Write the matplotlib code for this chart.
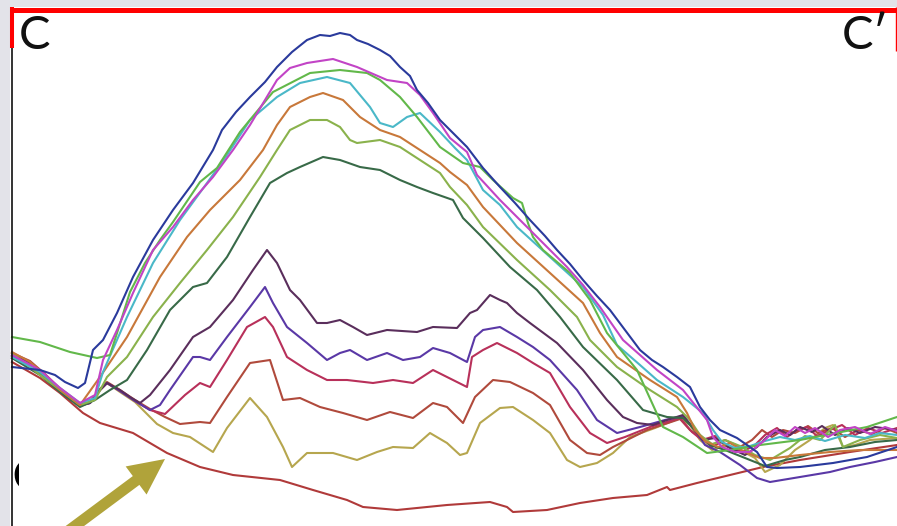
import matplotlib
matplotlib.use("Agg")
import matplotlib.pyplot as plt
from matplotlib.patches import Rectangle, FancyArrow

# ---- profile data (horizontal position along C-C', vertical position, image units, y down) ----
blue_x = [12, 40, 55, 65, 78, 85, 93, 103, 117, 133, 153, 173, 193, 213, 222, 236, 250, 265, 277, 292, 307, 320, 330, 340, 350, 357, 368, 380, 390, 400, 410, 417, 428, 440, 453, 467, 483, 500, 515, 530, 545, 557, 570, 583, 597, 610, 625, 640, 652, 663, 677, 690, 700, 710, 720, 737, 757, 767, 777, 800, 833, 867, 897]
blue_y = [367, 370, 375, 382, 388, 383, 350, 340, 313, 277, 240, 210, 183, 150, 130, 112, 97, 82, 67, 52, 40, 35, 36, 33, 35, 40, 44, 50, 56, 67, 76, 90, 103, 120, 133, 147, 168, 187, 203, 220, 236, 250, 264, 280, 296, 310, 330, 350, 360, 367, 377, 387, 407, 420, 430, 438, 452, 467, 468, 467, 463, 457, 447]

magenta_x = [12, 40, 60, 80, 95, 103, 117, 133, 153, 173, 193, 213, 233, 250, 265, 277, 290, 307, 333, 357, 387, 407, 420, 433, 450, 467, 477, 500, 517, 533, 550, 567, 583, 600, 623, 640, 657, 670, 683, 695, 707, 713, 722, 735, 750, 765, 775, 785, 795, 805, 815, 828, 840, 855, 870, 885, 897]
magenta_y = [355, 370, 388, 403, 395, 360, 330, 293, 250, 227, 200, 177, 150, 125, 100, 80, 68, 63, 59, 67, 80, 83, 95, 113, 138, 152, 175, 200, 217, 233, 250, 267, 285, 307, 340, 355, 370, 380, 390, 405, 420, 437, 447, 452, 452, 440, 430, 436, 427, 433, 428, 437, 430, 427, 434, 427, 431]

lgreen_x = [12, 40, 70, 97, 110, 118, 130, 145, 160, 173, 200, 217, 240, 273, 310, 340, 367, 380, 400, 417, 440, 463, 480, 493, 513, 522, 528, 533, 543, 570, 590, 607, 637, 663, 683, 707, 730, 760, 800, 867, 897]
lgreen_y = [337, 342, 352, 358, 355, 330, 292, 263, 240, 222, 182, 168, 132, 92, 73, 70, 73, 80, 97, 117, 147, 163, 167, 180, 198, 203, 223, 237, 250, 273, 300, 333, 370, 427, 437, 453, 450, 445, 440, 427, 417]

cyan_x = [12, 40, 60, 80, 95, 103, 127, 153, 180, 207, 227, 250, 277, 300, 327, 350, 370, 380, 393, 407, 420, 440, 455, 467, 483, 500, 517, 550, 583, 603, 617, 640, 657, 683, 703, 713, 722, 735, 750, 765, 780, 795, 810, 825, 845, 865, 880, 897]
cyan_y = [357, 372, 388, 403, 398, 372, 317, 263, 220, 183, 155, 120, 97, 83, 77, 83, 107, 123, 127, 117, 113, 132, 148, 160, 190, 205, 227, 257, 287, 315, 345, 365, 380, 397, 413, 430, 442, 448, 446, 441, 437, 440, 436, 441, 435, 438, 433, 435]

orange_x = [12, 30, 45, 60, 80, 100, 127, 160, 187, 210, 240, 263, 277, 290, 310, 323, 343, 360, 380, 400, 420, 440, 450, 467, 483, 517, 550, 583, 600, 617, 650, 677, 687, 695, 705, 718, 730, 745, 760, 775, 800, 830, 860, 897]
orange_y = [352, 362, 375, 390, 405, 377, 337, 277, 237, 210, 180, 150, 125, 107, 97, 93, 100, 117, 130, 137, 150, 163, 172, 185, 207, 243, 273, 303, 333, 357, 380, 397, 413, 430, 441, 447, 443, 452, 458, 458, 455, 452, 450, 450]

ygreen_x = [12, 40, 60, 80, 95, 107, 127, 153, 180, 207, 233, 260, 277, 290, 310, 327, 340, 350, 357, 380, 400, 420, 440, 450, 467, 483, 517, 550, 577, 590, 617, 650, 677, 690, 700, 712, 725, 740, 755, 770, 790, 805, 820, 835, 843, 860, 880, 897]
ygreen_y = [353, 375, 390, 405, 400, 377, 357, 317, 283, 250, 217, 177, 150, 130, 120, 120, 127, 140, 143, 140, 147, 160, 173, 187, 205, 227, 260, 290, 317, 340, 367, 390, 407, 420, 435, 444, 440, 446, 455, 460, 448, 436, 440, 425, 447, 440, 435, 438]

dgreen_x = [12, 40, 60, 80, 95, 110, 127, 147, 170, 193, 207, 227, 250, 270, 287, 300, 323, 340, 360, 380, 400, 417, 433, 453, 463, 483, 510, 537, 560, 583, 617, 643, 667, 683, 697, 710, 725, 745, 765, 785, 800, 825, 850, 875, 897]
dgreen_y = [358, 375, 392, 407, 400, 390, 380, 350, 310, 287, 283, 257, 217, 183, 173, 167, 157, 160, 167, 170, 180, 187, 193, 200, 218, 238, 267, 290, 317, 347, 380, 410, 417, 418, 432, 445, 450, 458, 466, 460, 457, 450, 447, 442, 440]

dpurple_x = [12, 30, 45, 60, 80, 90, 100, 107, 120, 130, 140, 150, 170, 193, 210, 233, 253, 267, 277, 290, 300, 317, 327, 340, 353, 367, 387, 417, 433, 457, 470, 477, 490, 500, 507, 517, 530, 557, 583, 607, 623, 637, 653, 667, 683, 693, 703, 715, 730, 745, 757, 767, 780, 790, 800, 812, 822, 835, 848, 860, 875, 897]
dpurple_y = [355, 363, 375, 390, 405, 403, 390, 383, 390, 397, 403, 395, 370, 337, 327, 300, 270, 250, 263, 290, 300, 323, 323, 320, 327, 335, 330, 332, 327, 328, 313, 310, 295, 300, 303, 313, 323, 343, 370, 400, 417, 423, 425, 420, 415, 428, 440, 438, 448, 455, 447, 437, 430, 435, 427, 432, 426, 435, 428, 433, 427, 430]

purple_x = [12, 30, 45, 60, 80, 90, 100, 107, 120, 135, 150, 160, 170, 193, 200, 210, 227, 250, 265, 273, 287, 307, 327, 340, 350, 367, 387, 403, 420, 433, 450, 467, 475, 483, 500, 517, 533, 550, 577, 597, 617, 640, 665, 683, 695, 705, 720, 740, 757, 770, 800, 830, 850, 875, 897]
purple_y = [356, 364, 376, 391, 405, 403, 390, 383, 391, 401, 410, 405, 390, 357, 357, 360, 337, 307, 287, 303, 327, 343, 360, 353, 350, 360, 353, 360, 357, 348, 353, 362, 337, 330, 327, 337, 347, 360, 390, 420, 433, 427, 420, 416, 430, 445, 452, 465, 478, 482, 477, 472, 467, 462, 457]

crimson_x = [12, 30, 45, 60, 80, 90, 100, 107, 120, 135, 150, 165, 185, 200, 210, 227, 247, 265, 273, 287, 307, 327, 347, 373, 393, 413, 433, 453, 467, 472, 483, 497, 517, 533, 550, 570, 590, 607, 625, 650, 680, 692, 702, 715, 728, 742, 755, 765, 777, 787, 797, 807, 817, 830, 842, 855, 868, 882, 897]
crimson_y = [358, 366, 378, 392, 406, 403, 390, 383, 391, 401, 410, 414, 395, 383, 387, 360, 327, 317, 327, 357, 370, 380, 380, 383, 380, 383, 370, 380, 387, 357, 350, 343, 353, 363, 373, 407, 433, 443, 437, 427, 418, 432, 440, 436, 447, 452, 445, 435, 428, 437, 430, 427, 436, 430, 425, 435, 428, 433, 428]

rbrown_x = [12, 30, 45, 60, 80, 90, 100, 107, 120, 135, 150, 165, 180, 200, 210, 227, 250, 270, 283, 300, 320, 343, 367, 390, 413, 433, 447, 463, 475, 493, 510, 533, 550, 570, 587, 600, 613, 647, 680, 690, 700, 712, 725, 740, 752, 762, 772, 783, 795, 808, 818, 832, 845, 858, 872, 885, 897]
rbrown_y = [353, 361, 374, 389, 404, 402, 389, 382, 390, 400, 409, 417, 424, 422, 423, 397, 363, 360, 400, 398, 407, 413, 420, 412, 418, 403, 407, 423, 397, 380, 382, 393, 405, 440, 453, 455, 447, 430, 419, 430, 437, 447, 440, 447, 440, 430, 437, 430, 433, 426, 433, 428, 437, 430, 434, 428, 433]

olive_x = [12, 30, 45, 60, 80, 90, 100, 107, 120, 135, 157, 173, 190, 213, 227, 250, 267, 283, 292, 307, 333, 357, 377, 393, 413, 430, 447, 460, 467, 480, 500, 513, 533, 550, 567, 580, 597, 613, 630, 655, 680, 690, 700, 712, 725, 740, 755, 765, 780, 795, 810, 825, 833, 843, 855, 870, 897]
olive_y = [356, 365, 378, 390, 405, 403, 390, 383, 392, 402, 424, 433, 437, 452, 428, 398, 417, 447, 467, 453, 453, 460, 452, 447, 448, 433, 443, 455, 453, 423, 408, 407, 420, 433, 460, 467, 463, 453, 437, 428, 418, 425, 440, 450, 446, 450, 458, 472, 465, 450, 440, 428, 425, 447, 445, 440, 438]

dred_x = [12, 40, 60, 83, 100, 133, 167, 200, 233, 280, 313, 347, 363, 397, 447, 490, 507, 513, 547, 580, 613, 647, 667, 670, 697, 730, 763, 800, 850, 897]
dred_y = [362, 378, 393, 413, 423, 433, 453, 467, 475, 480, 490, 500, 507, 510, 505, 502, 507, 512, 510, 503, 498, 495, 487, 490, 483, 475, 467, 460, 452, 445]

# arrow (tail, tip) and labels
arrow_tail = (48, 546)
arrow_tip = (165, 459)
label_left = "C"
label_right = "C\u2032"

W, H = 897, 526
fig = plt.figure(figsize=(W / 100, H / 100), dpi=100, facecolor="#e3e3e9")
ax = fig.add_axes([0, 0, 1, 1])
ax.set_xlim(0, W)
ax.set_ylim(H, 0)
ax.axis("off")
ax.patch.set_alpha(0)

# panel background
ax.add_patch(Rectangle((10, 7), W - 10, H - 7, facecolor="white", edgecolor="none", zorder=0))

series = [
    (dred_x, dred_y, "#b03a3a"),
    (olive_x, olive_y, "#b6a64e"),
    (rbrown_x, rbrown_y, "#b04a3c"),
    (crimson_x, crimson_y, "#b8305a"),
    (purple_x, purple_y, "#5a38a6"),
    (dpurple_x, dpurple_y, "#5a2e5c"),
    (dgreen_x, dgreen_y, "#386a48"),
    (ygreen_x, ygreen_y, "#8ab24c"),
    (orange_x, orange_y, "#c8783a"),
    (cyan_x, cyan_y, "#4ab8c8"),
    (lgreen_x, lgreen_y, "#62b84a"),
    (magenta_x, magenta_y, "#c244c6"),
    (blue_x, blue_y, "#2a3a9c"),
]
for xs, ys, c in series:
    ax.plot(xs, ys, color=c, lw=1.5, solid_joinstyle="round", zorder=3)

# frame
ax.plot([10, W], [9.5, 9.5], color="#ff0000", lw=3.6, solid_capstyle="butt", zorder=5)
ax.plot([12, 12], [7, 48], color="#ff0000", lw=2.9, solid_capstyle="butt", zorder=5)
ax.plot([11.5, 11.5], [48, H], color="#111111", lw=1.2, solid_capstyle="butt", zorder=5)
ax.plot([896.3, 896.3], [7, 51], color="#ff0000", lw=1.0, solid_capstyle="butt", zorder=5)

# labels
ax.text(19, 36, label_left, fontsize=34, family=["Lato", "DejaVu Sans"], color="#111111",
        va="center", ha="left", zorder=6)
ax.text(842, 36, label_right, fontsize=34, family=["Lato", "DejaVu Sans"], color="#111111",
        va="center", ha="left", zorder=6)

# partially hidden label at the bottom left (only its left stroke shows)
ax.text(12, 478, "C", fontsize=30, family=["Lato", "DejaVu Sans"], color="#000000",
        va="center", ha="left", zorder=1, fontweight="bold")
ax.add_patch(Rectangle((18.5, 440), 45, 75, facecolor="white", edgecolor="none", zorder=1.5))

# arrow
dx = arrow_tip[0] - arrow_tail[0]
dy = arrow_tip[1] - arrow_tail[1]
ax.add_patch(FancyArrow(arrow_tail[0], arrow_tail[1], dx, dy, width=11, head_width=35,
                        head_length=36, length_includes_head=True, color="#b0a33a",
                        linewidth=0, zorder=4))

fig.savefig("out.png", dpi=100, facecolor=fig.get_facecolor())
